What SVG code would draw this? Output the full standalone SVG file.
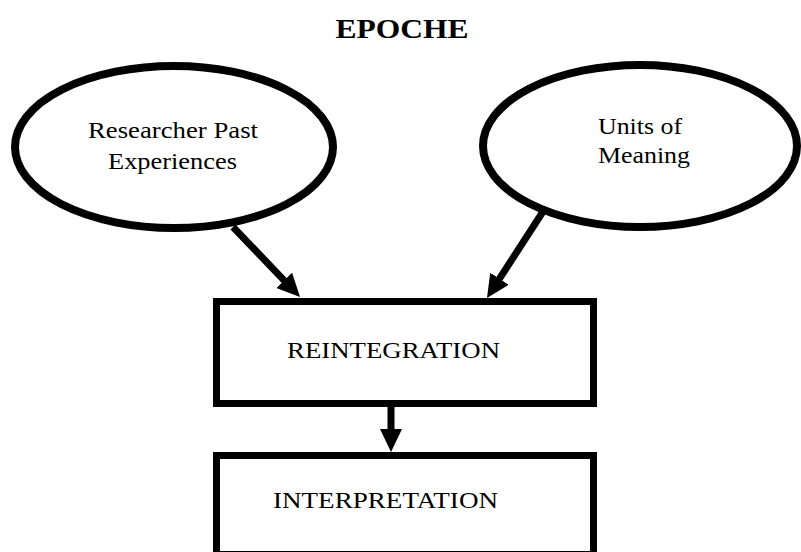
<svg xmlns="http://www.w3.org/2000/svg" width="801" height="552" viewBox="0 0 801 552">
  <style>
    .shape { fill: #ffffff; stroke: #000000; }
    .ell { stroke-width: 8; }
    .box { stroke-width: 7; }
    .lbl { font-family: "Liberation Serif", "Times New Roman", serif; font-size: 23.5px; fill: #000000; }
    .title { font-family: "Liberation Serif", "Times New Roman", serif; font-size: 27px; font-weight: bold; fill: #000000; }
    .conn { stroke: #000000; stroke-width: 7; fill: none; marker-end: url(#head); }
  </style>
  <defs>
    <marker id="head" viewBox="0 0 23 22" refX="2" refY="11" markerWidth="23" markerHeight="22" markerUnits="userSpaceOnUse" orient="auto">
      <path d="M0,0 L23,11 L0,22 z" fill="#000000"/>
    </marker>
  </defs>
  <rect width="801" height="552" fill="#ffffff"/>
  <text class="title" x="402" y="38" text-anchor="middle" textLength="133" lengthAdjust="spacingAndGlyphs">EPOCHE</text>

  <g id="researcher">
    <ellipse class="shape ell" cx="174" cy="147" rx="159" ry="81"/>
    <text class="lbl" x="173" y="138" text-anchor="middle" textLength="170" lengthAdjust="spacingAndGlyphs">Researcher Past</text>
    <text class="lbl" x="172.5" y="169" text-anchor="middle" textLength="129" lengthAdjust="spacingAndGlyphs">Experiences</text>
  </g>

  <g id="units">
    <ellipse class="shape ell" cx="640" cy="146" rx="157" ry="81"/>
    <text class="lbl" x="598" y="134" textLength="84" lengthAdjust="spacingAndGlyphs">Units of</text>
    <text class="lbl" x="598" y="163" textLength="92" lengthAdjust="spacingAndGlyphs">Meaning</text>
  </g>

  <g id="reintegration">
    <rect class="shape box" x="216.5" y="301.5" width="377" height="102"/>
    <text class="lbl" x="287" y="358" textLength="213" lengthAdjust="spacingAndGlyphs">REINTEGRATION</text>
  </g>

  <g id="interpretation">
    <rect class="shape box" x="216.5" y="455.5" width="377" height="99"/>
    <text class="lbl" x="273" y="508" textLength="225" lengthAdjust="spacingAndGlyphs">INTERPRETATION</text>
  </g>

  <g id="connectors">
    <line class="conn" x1="233" y1="227" x2="285.5" y2="281.8"/>
    <line class="conn" x1="544" y1="210" x2="498.4" y2="280.4"/>
    <line class="conn" x1="391" y1="407" x2="391" y2="431"/>
  </g>
</svg>
